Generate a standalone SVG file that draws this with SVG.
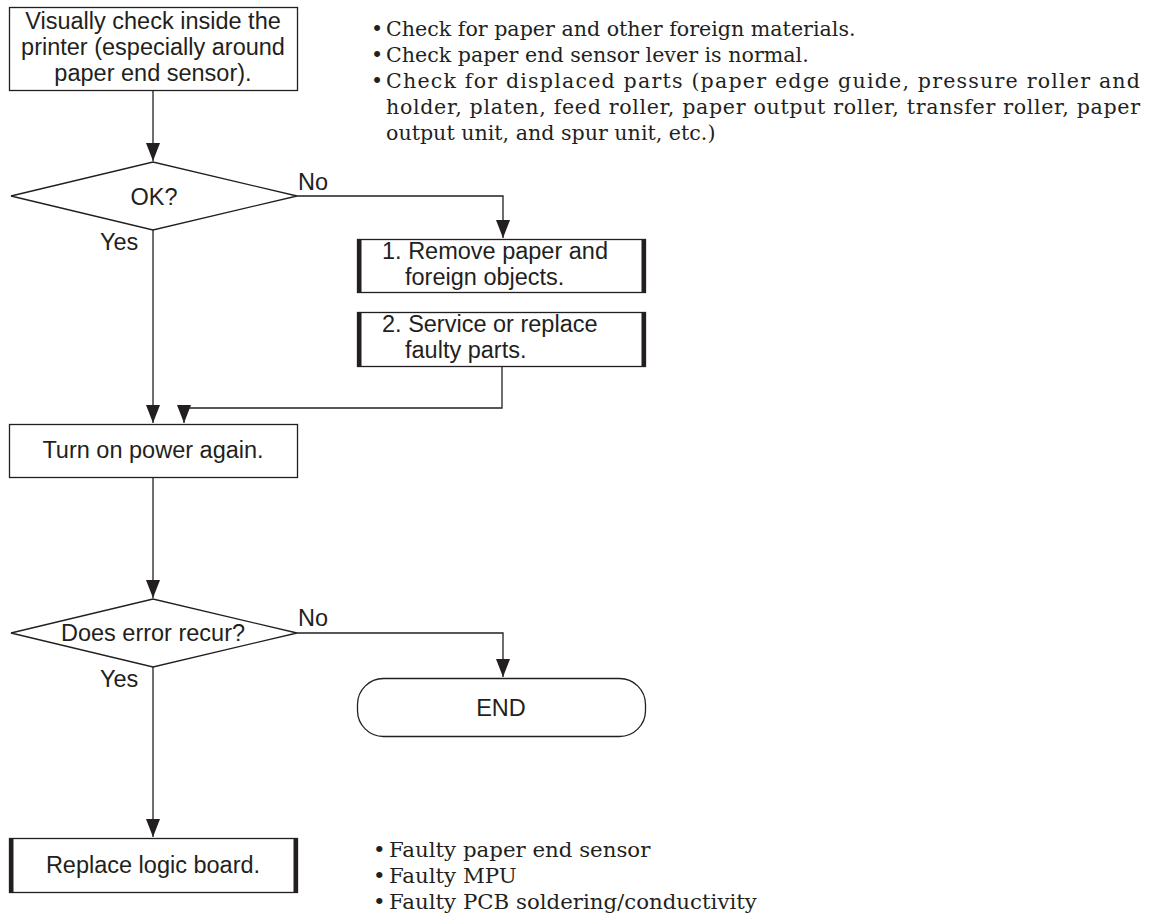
<svg xmlns="http://www.w3.org/2000/svg" width="1156" height="920" viewBox="0 0 1156 920">
<defs>
<marker id="arr" markerUnits="userSpaceOnUse" markerWidth="18" markerHeight="14" refX="18" refY="7" orient="auto">
<path d="M0,0 L18,7 L0,14 z" fill="#231f20"/>
</marker>
<style>
.box{fill:#fff;stroke:#231f20;stroke-width:1.3}
.bar{fill:#231f20}
.t{font-family:"Liberation Sans",Arial,sans-serif;font-size:23.5px;fill:#231f20}
.c{text-anchor:middle}
.n{font-family:"DejaVu Serif",serif;font-size:20.6px;fill:#231f20}
.nb{font-family:"DejaVu Serif",serif;font-size:21.3px;fill:#231f20}
.ln{fill:none;stroke:#231f20;stroke-width:1.3}
</style>
</defs>
<rect width="1156" height="920" fill="#fff"/>
<g id="connectors">
<path class="ln" d="M153,91 V161" marker-end="url(#arr)"/>
<path class="ln" d="M297,196 H503 V238" marker-end="url(#arr)"/>
<path class="ln" d="M153,230 V423" marker-end="url(#arr)"/>
<path class="ln" d="M502,367 V408 H184 V423" marker-end="url(#arr)"/>
<path class="ln" d="M153,478 V598" marker-end="url(#arr)"/>
<path class="ln" d="M297,633 H503 V677" marker-end="url(#arr)"/>
<path class="ln" d="M153,667 V837" marker-end="url(#arr)"/>
</g>
<g id="check">
<rect class="box" x="9.5" y="7.5" width="288" height="83"/>
<text class="t c" x="153" y="29">Visually check inside the</text>
<text class="t c" x="153" y="55">printer (especially around</text>
<text class="t c" x="153" y="81">paper end sensor).</text>
</g>
<g id="notes-top">
<text class="n" x="371" y="36">•</text>
<text class="n" x="371" y="62">•</text>
<text class="n" x="371" y="88">•</text>
<text class="n" x="386" y="36">Check for paper and other foreign materials.</text>
<text class="n" x="386" y="62">Check paper end sensor lever is normal.</text>
<text class="n" x="386" y="88" textLength="754" lengthAdjust="spacing">Check for displaced parts (paper edge guide, pressure roller and</text>
<text class="n" x="386" y="114" textLength="754" lengthAdjust="spacing">holder, platen, feed roller, paper output roller, transfer roller, paper</text>
<text class="n" x="386" y="140">output unit, and spur unit, etc.)</text>
</g>
<g id="ok">
<polygon class="box" points="11,196 153,162 297,196 153,230"/>
<text class="t c" x="154" y="205">OK?</text>
<text class="t" x="298" y="190">No</text>
<text class="t" x="100" y="250">Yes</text>
</g>
<g id="remove">
<rect class="box" x="357.5" y="239.5" width="288" height="53"/>
<rect class="bar" x="357" y="239" width="4.5" height="54"/>
<rect class="bar" x="641.5" y="239" width="4.5" height="54"/>
<text class="t" x="382" y="259">1. Remove paper and</text>
<text class="t" x="405" y="285">foreign objects.</text>
</g>
<g id="service">
<rect class="box" x="357.5" y="312.5" width="288" height="54"/>
<rect class="bar" x="357" y="312" width="4.5" height="55"/>
<rect class="bar" x="641.5" y="312" width="4.5" height="55"/>
<text class="t" x="382" y="332">2. Service or replace</text>
<text class="t" x="405" y="358">faulty parts.</text>
</g>
<g id="power">
<rect class="box" x="9.5" y="424.5" width="288" height="53"/>
<text class="t c" x="153" y="458">Turn on power again.</text>
</g>
<g id="recur">
<polygon class="box" points="11,633 153,599 297,633 153,667"/>
<text class="t c" x="153" y="641">Does error recur?</text>
<text class="t" x="298" y="626">No</text>
<text class="t" x="100" y="687">Yes</text>
</g>
<g id="end">
<rect class="box" x="357.5" y="678.5" width="288" height="58" rx="26"/>
<text class="t c" x="501" y="716">END</text>
</g>
<g id="replace">
<rect class="box" x="9.5" y="838.5" width="288" height="54"/>
<rect class="bar" x="9" y="838" width="4.5" height="55"/>
<rect class="bar" x="293.5" y="838" width="4.5" height="55"/>
<text class="t c" x="153" y="873">Replace logic board.</text>
</g>
<g id="notes-bottom">
<text class="nb" x="373" y="857">•</text>
<text class="nb" x="373" y="883">•</text>
<text class="nb" x="373" y="909">•</text>
<text class="nb" x="389" y="857">Faulty paper end sensor</text>
<text class="nb" x="389" y="883">Faulty MPU</text>
<text class="nb" x="389" y="909">Faulty PCB soldering/conductivity</text>
</g>
</svg>
